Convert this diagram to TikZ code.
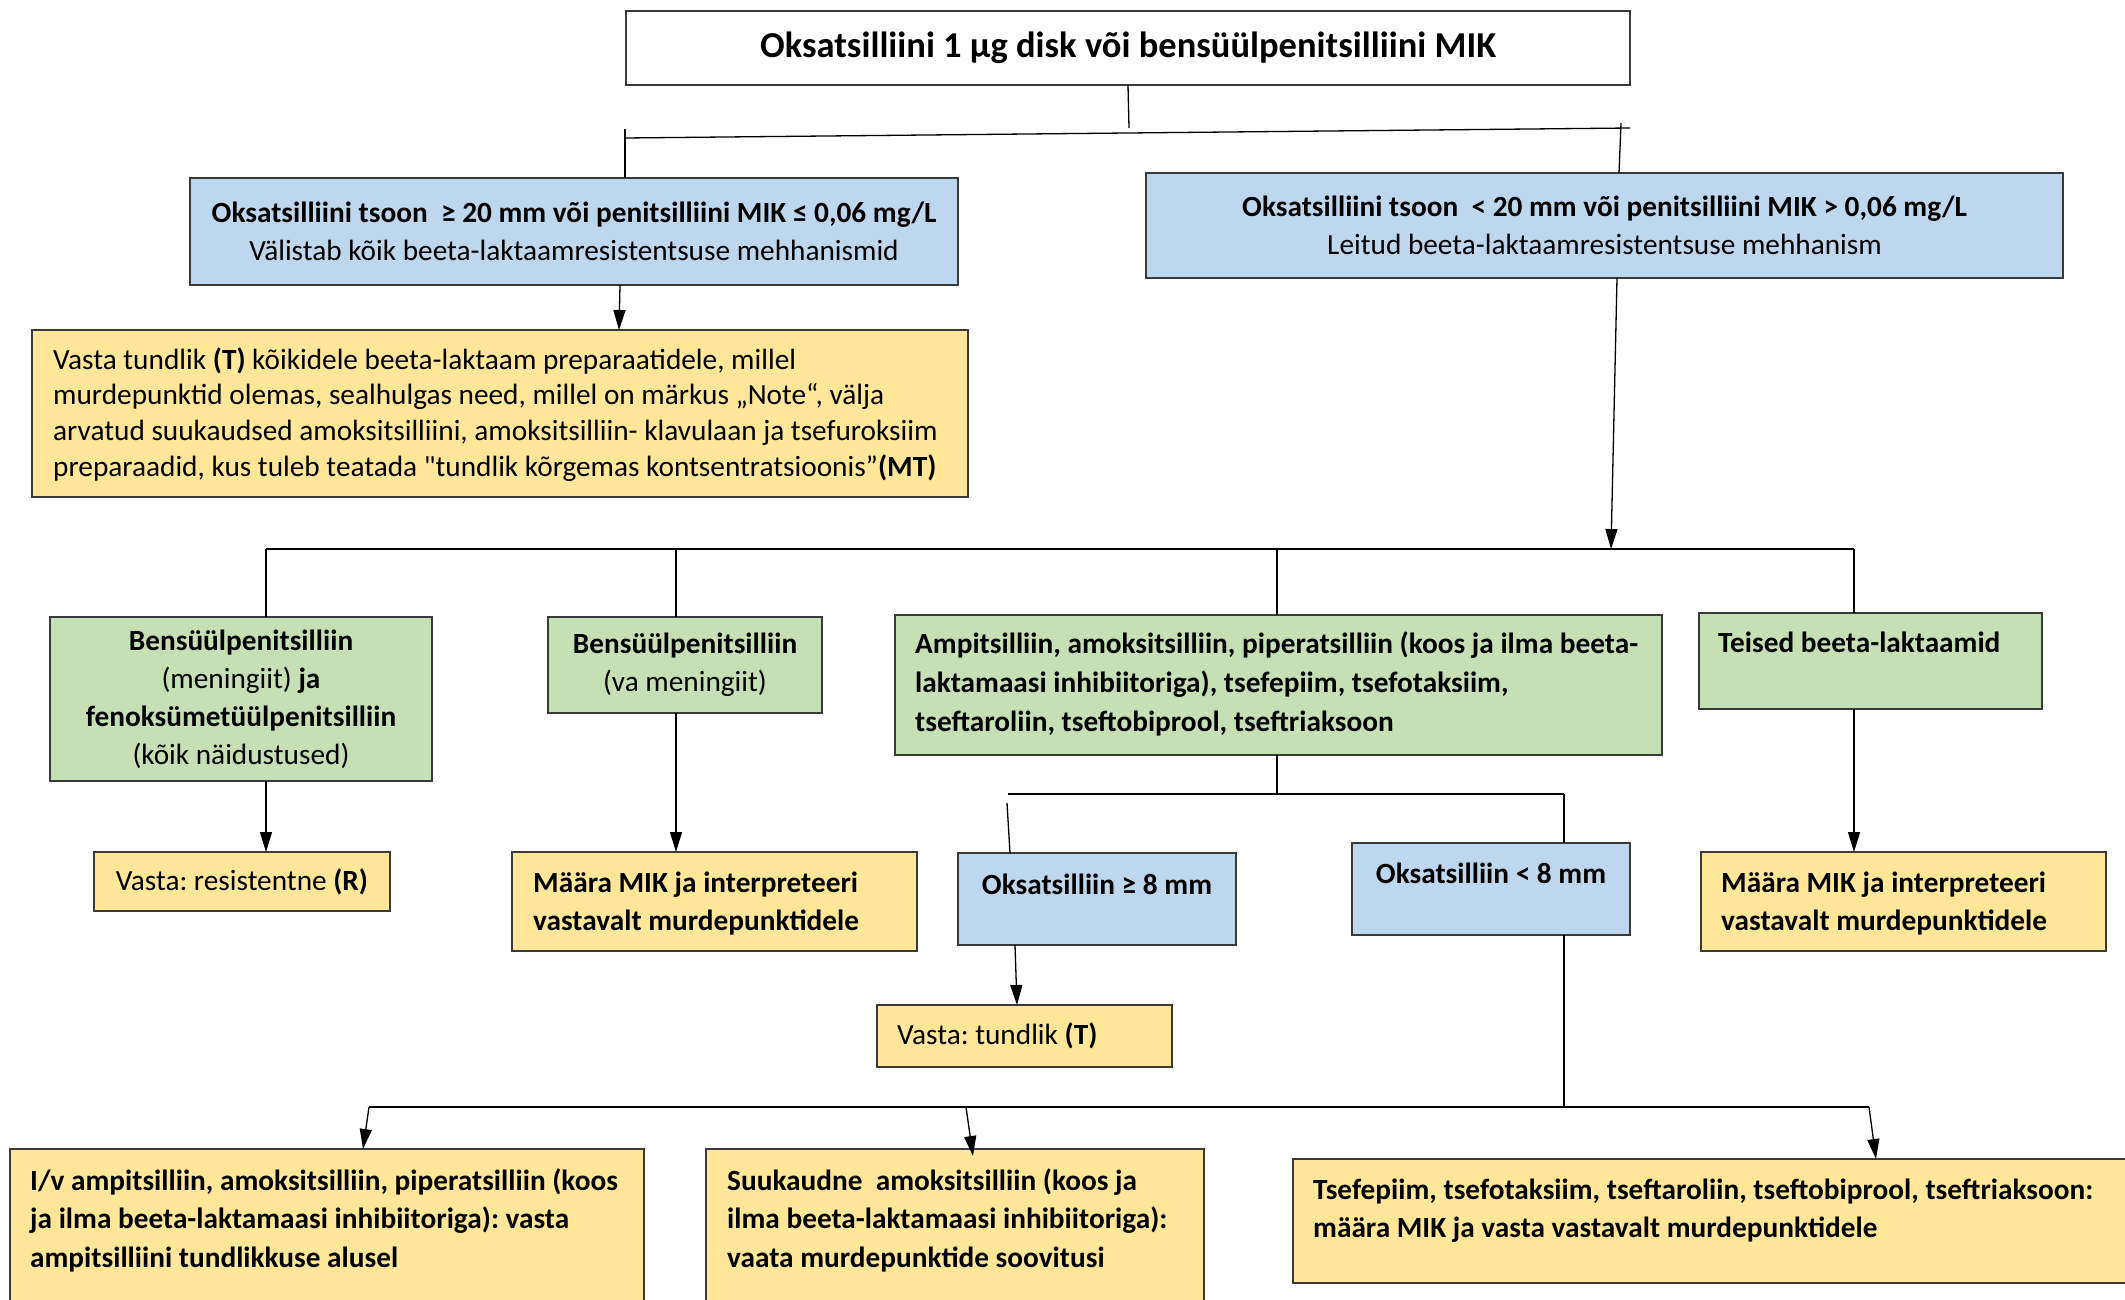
\documentclass[tikz,border=0pt]{standalone}
\usepackage{fontspec}
\setmainfont{Carlito}[Ligatures=TeXOff]
\usetikzlibrary{arrows.meta}
\definecolor{cblue}{HTML}{BDD7EE}
\definecolor{cgreen}{HTML}{C5E0B4}
\definecolor{cyel}{HTML}{FFE699}
\definecolor{cbord}{HTML}{3A3A3A}
\newcommand\fs[1]{\fontsize{29.3}{#1}\selectfont\frenchspacing}
\tikzset{
  box/.style={draw=cbord, line width=1.8pt, inner sep=0pt, outer sep=0pt, anchor=north west,
              font=\fs{38}},
  plainbox/.style={box, fill=white},
  bluebox/.style={box, fill=cblue},
  greenbox/.style={box, fill=cgreen},
  yelbox/.style={box, fill=cyel},
  txt/.style={inner sep=0pt, anchor=north west, align=left, font=\fs{38}},
  conn/.style={line width=1.3pt, black},
  arr/.style={conn, -{Triangle[length=20pt,width=12pt]}},
}
\begin{document}
\begin{tikzpicture}[x=1pt,y=-1pt]
\useasboundingbox (0,0) rectangle (2125,1299);
\clip (0,0) rectangle (2125,1299);

% ---- boxes ----
\node[plainbox, minimum width=1004, minimum height=74, font=\fontsize{36.5}{40}\selectfont\bfseries]
  (top) at (626,11) {Oksatsilliini 1 μg disk või bensüülpenitsilliini MIK};

\node[bluebox, minimum width=768, minimum height=107, align=center]
  (lb) at (190,178) {\textbf{Oksatsilliini tsoon\ \ ≥ 20 mm või penitsilliini MIK ≤ 0,06 mg/L}\\Välistab kõik beeta-laktaamresistentsuse mehhanismid};

\node[bluebox, minimum width=917, minimum height=105, align=center]
  (rb) at (1146,173) {\textbf{Oksatsilliini tsoon\ \ < 20 mm või penitsilliini MIK > 0,06 mg/L}\\Leitud beeta-laktaamresistentsuse mehhanism};

\node[yelbox, minimum width=936, minimum height=167] (big) at (32,330) {};
\node[txt, font=\fs{35.7}] (bigt) at (53,344) {\strut Vasta tundlik \textbf{(T)} kõikidele beeta-laktaam preparaatidele, millel\\
  murdepunktid olemas, sealhulgas need, millel on märkus „Note“, välja\\
  arvatud suukaudsed amoksitsilliini, amoksitsilliin- klavulaan ja tsefuroksiim\\
  preparaadid, kus tuleb teatada "tundlik kõrgemas kontsentratsioonis”\textbf{(MT)}};

\node[greenbox, minimum width=382, minimum height=164, align=center]
  (g1) at (50,617) {\textbf{Bensüülpenitsilliin}\\(meningiit) \textbf{ja}\\\textbf{fenoksümetüülpenitsilliin}\\(kõik näidustused)};

\node[greenbox, minimum width=274, minimum height=96, align=center]
  (g2) at (548,617) {\textbf{Bensüülpenitsilliin}\\(va meningiit)};

\node[greenbox, minimum width=767, minimum height=140] (g3) at (895,615) {};
\node[txt, font=\fs{39}\bfseries] (g3t) at (915,626) {\strut Ampitsilliin, amoksitsilliin, piperatsilliin (koos ja ilma beeta-\\laktamaasi inhibiitoriga), tsefepiim, tsefotaksiim,\\tseftaroliin, tseftobiprool, tseftriaksoon};

\node[greenbox, minimum width=343, minimum height=96] (g4) at (1699,613) {};
\node[txt, font=\fs{38}\bfseries] (g4t) at (1718,626) {\strut Teised beeta-laktaamid};

\node[yelbox, minimum width=296, minimum height=59]
  (vr) at (94,852) {Vasta: resistentne \textbf{(R)}};

\node[yelbox, minimum width=405, minimum height=99] (m1) at (512,852) {};
\node[txt, font=\fs{38}\bfseries] (m1t) at (533,866) {\strut Määra MIK ja interpreteeri\\vastavalt murdepunktidele};

\node[yelbox, minimum width=405, minimum height=99] (m2) at (1701,852) {};
\node[txt, font=\fs{38}\bfseries] (m2t) at (1721,866) {\strut Määra MIK ja interpreteeri\\vastavalt murdepunktidele};

\node[bluebox, minimum width=278, minimum height=92] (b8ge) at (958,853) {};
\node[inner sep=0pt, anchor=base, font=\fs{38}\bfseries] (b8get) at (1097,894) {Oksatsilliin ≥ 8 mm};

\node[bluebox, minimum width=278, minimum height=92] (b8lt) at (1352,843) {};
\node[inner sep=0pt, anchor=base, font=\fs{38}\bfseries] (b8ltt) at (1491,883) {Oksatsilliin < 8 mm};

\node[yelbox, minimum width=295, minimum height=62] (vt) at (877,1005) {};
\node[txt, font=\fs{38}] (vtt) at (897,1018) {\strut Vasta: tundlik \textbf{(T)}};

\node[yelbox, minimum width=634, minimum height=200] (bt1) at (10,1149) {};
\node[txt, font=\fs{38.5}\bfseries] (bt1t) at (30,1163) {\strut I/v ampitsilliin, amoksitsilliin, piperatsilliin (koos\\ja ilma beeta-laktamaasi inhibiitoriga): vasta\\ampitsilliini tundlikkuse alusel};

\node[yelbox, minimum width=498, minimum height=200] (bt2) at (706,1149) {};
\node[txt, font=\fs{38.5}\bfseries] (bt2t) at (727,1163) {\strut Suukaudne\ \ amoksitsilliin (koos ja\\ilma beeta-laktamaasi inhibiitoriga):\\vaata murdepunktide soovitusi};

\node[yelbox, minimum width=900, minimum height=124] (bt3) at (1293,1159) {};
\node[txt, font=\fs{38}\bfseries] (bt3t) at (1313,1173) {\strut Tsefepiim, tsefotaksiim, tseftaroliin, tseftobiprool, tseftriaksoon:\\määra MIK ja vasta vastavalt murdepunktidele};

% ---- connectors ----
\coordinate (j0) at (1129,128);
\coordinate (jL) at (624,138);
\coordinate (jR) at (1630,128);
\coordinate (jLt) at (625,129);
\coordinate (jRt) at (1621,123);
\draw[conn] (top.south) -- (j0);
\draw[conn] (jL) -- (jR);
\draw[conn] (jLt) -- (lb.north -| jLt);
\draw[conn] (jRt) -- ([xshift=-2pt]rb.north -| jRt);

\draw[arr] ([xshift=46pt]lb.south) -- ([xshift=119pt]big.north);

\coordinate (bus) at (1611,549);
\coordinate (b1) at (266,549);
\coordinate (b2) at (676,549);
\coordinate (b3) at (1277,549);
\coordinate (b4) at (1854,549);
\draw[arr] ([xshift=12.5pt]rb.south) -- (bus);
\draw[conn] (b1) -- (b4);
\draw[conn] (b1) -- (g1.north -| b1);
\draw[conn] (b2) -- (g2.north -| b2);
\draw[conn] (b3) -- (g3.north -| b3);
\draw[conn] (b4) -- (g4.north -| b4);

\draw[arr] (g1.south -| b1) -- (vr.north -| b1);
\draw[arr] (g2.south -| b2) -- (m1.north -| b2);
\draw[arr] (g4.south -| b4) -- (m2.north -| b4);

\coordinate (s0) at (1277,794);
\coordinate (sL) at (1008,794);
\coordinate (sR) at (1564,794);
\coordinate (sLt) at (1007,803);
\draw[conn] (g3.south -| s0) -- (s0);
\draw[conn] (sL) -- (sR);
\draw[conn] (sLt) -- ([xshift=-87pt]b8ge.north);
\draw[conn] (sR) -- (b8lt.north -| sR);

\draw[arr] ([xshift=-82pt]b8ge.south) -- ([xshift=-7.5pt]vt.north);

\coordinate (q0) at (1564,1107);
\coordinate (q1) at (369,1107);
\coordinate (q2) at (966,1107);
\coordinate (q3) at (1869,1107);
\draw[conn] (b8lt.south -| q0) -- (q0);
\draw[conn] (q1) -- (q3);
\draw[arr] (q1) -- ([xshift=36pt]bt1.north);
\draw[arr] (q2) -- ([xshift=18pt,yshift=-7pt]bt2.north);
\draw[arr] (q3) -- ([xshift=133pt]bt3.north);
\end{tikzpicture}
\end{document}
